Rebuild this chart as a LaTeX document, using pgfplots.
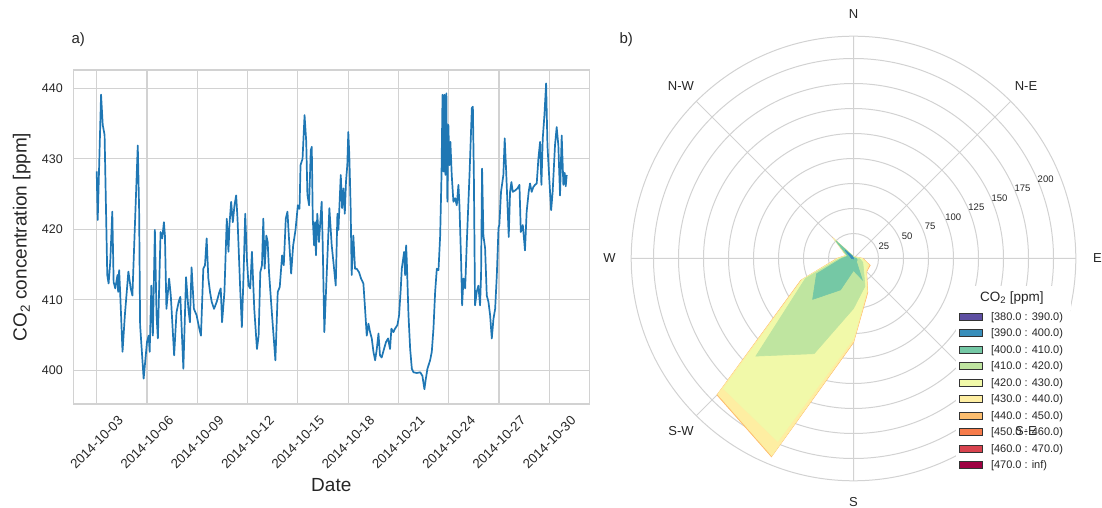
\documentclass[border=0pt]{standalone}
\usepackage{fontspec}
\setmainfont{Liberation Sans}
\usepackage{pgfplots}
\pgfplotsset{compat=1.18}
\usepgfplotslibrary{polar}
\usepackage{pgfplotstable}

\definecolor{tsblue}{HTML}{1F77B4}
\definecolor{gridgray}{HTML}{D2D2D2}
\definecolor{txt}{HTML}{262626}
\definecolor{c380}{HTML}{5E4FA2}
\definecolor{c390}{HTML}{388EBA}
\definecolor{c400}{HTML}{75C8A5}
\definecolor{c410}{HTML}{BFE5A0}
\definecolor{c420}{HTML}{F1F9A9}
\definecolor{c430}{HTML}{FEEEA2}
\definecolor{c440}{HTML}{FDBE6F}
\definecolor{c450}{HTML}{F67B4A}
\definecolor{c460}{HTML}{D8434E}
\definecolor{c470}{HTML}{9E0142}

\pgfplotstableread{
day ppm
3.00 428.2
3.06 421.3
3.26 439.1
3.36 434.8
3.47 433.4
3.63 413.5
3.71 412.3
3.81 415.4
3.93 422.5
4.01 412.5
4.11 411.6
4.24 413.5
4.28 411.1
4.34 414.2
4.40 411.0
4.54 402.6
4.68 407.8
4.89 414.0
5.03 411.6
5.13 410.6
5.45 431.9
5.53 422.9
5.59 406.4
5.80 398.8
6.00 404.0
6.10 404.9
6.16 402.6
6.26 412.0
6.35 404.9
6.47 419.9
6.57 407.8
6.65 404.5
6.81 419.6
6.91 418.7
7.01 421.0
7.07 419.1
7.16 408.7
7.32 413.0
7.42 410.6
7.62 402.1
7.76 408.2
7.89 409.7
7.99 410.4
8.17 400.2
8.33 413.2
8.47 408.7
8.56 406.8
8.66 414.6
8.80 408.7
8.96 407.8
9.12 405.9
9.22 404.9
9.36 414.4
9.46 414.9
9.56 418.7
9.66 413.0
9.76 411.1
9.86 409.7
10.00 408.7
10.16 409.7
10.32 411.1
10.40 411.6
10.48 406.8
10.62 411.1
10.76 421.5
10.86 416.8
10.92 420.6
11.02 423.9
11.12 421.0
11.22 423.4
11.32 424.8
11.40 421.5
11.56 411.6
11.66 406.1
11.76 413.5
11.86 422.2
11.96 415.8
12.06 412.0
12.16 411.6
12.26 416.8
12.40 408.7
12.56 403.0
12.66 404.9
12.76 413.9
12.86 414.9
12.94 421.5
13.02 414.4
13.12 419.1
13.20 418.2
13.28 413.9
13.46 407.8
13.66 401.4
13.80 411.1
13.92 411.8
14.06 416.3
14.16 414.9
14.28 421.5
14.38 422.5
14.46 419.1
14.60 413.7
14.72 417.7
14.86 419.9
15.00 423.4
15.10 422.9
15.16 429.1
15.28 430.0
15.40 436.2
15.50 432.4
15.57 424.9
15.67 423.4
15.77 431.2
15.83 431.7
15.89 421.5
15.97 417.7
16.03 421.0
16.08 416.3
16.16 422.2
16.26 418.2
16.42 423.9
16.48 418.2
16.58 405.4
16.72 413.5
16.88 423.0
17.02 417.7
17.12 415.4
17.26 412.0
17.36 422.2
17.42 419.9
17.56 427.7
17.64 423.0
17.72 425.8
17.80 422.2
17.87 426.7
17.95 429.1
18.01 433.8
18.07 430.5
18.15 423.0
18.21 413.5
18.31 419.1
18.41 414.4
18.51 414.4
18.65 413.9
18.77 413.0
18.91 412.3
19.01 408.7
19.11 404.9
19.21 406.6
19.31 405.4
19.41 404.5
19.51 402.6
19.61 401.4
19.71 403.0
19.81 405.2
19.90 402.1
20.00 401.8
20.14 403.0
20.26 404.0
20.38 404.5
20.50 403.0
20.58 405.9
20.70 405.4
20.80 405.9
20.94 406.4
21.04 407.8
21.14 411.6
21.20 414.4
21.26 415.4
21.34 416.8
21.40 413.5
21.46 417.7
21.50 415.4
21.60 407.8
21.70 403.0
21.80 400.2
21.90 399.7
22.10 399.6
22.30 399.7
22.43 399.2
22.55 397.3
22.63 398.7
22.73 400.2
22.89 401.4
22.99 402.6
23.09 405.9
23.19 411.1
23.29 414.4
23.39 414.2
23.49 419.1
23.57 427.7
23.63 439.1
23.69 428.2
23.75 439.1
23.80 427.7
23.86 439.3
23.92 423.9
23.98 434.8
24.04 429.1
24.10 432.4
24.18 427.7
24.28 423.9
24.38 424.4
24.48 423.4
24.58 426.3
24.64 423.4
24.74 415.4
24.80 409.2
24.88 413.0
24.98 411.6
25.08 418.2
25.24 427.7
25.38 437.2
25.44 437.4
25.50 427.7
25.57 409.2
25.67 411.1
25.77 412.0
25.87 409.2
25.93 413.5
25.99 428.6
26.07 419.1
26.17 417.3
26.27 410.6
26.37 409.7
26.47 407.8
26.57 404.5
26.67 407.3
26.77 408.7
26.87 413.5
26.97 420.2
27.02 420.6
27.12 425.3
27.26 427.7
27.34 432.9
27.42 428.6
27.50 423.9
27.58 418.9
27.66 425.3
27.74 426.7
27.82 425.3
27.96 425.5
28.10 425.8
28.22 426.3
28.30 419.6
28.42 420.6
28.55 417.0
28.65 422.5
28.77 425.3
28.85 426.5
28.95 425.3
29.05 426.0
29.15 426.3
29.25 426.5
29.35 430.0
29.45 432.4
29.53 426.3
29.61 432.9
29.71 436.2
29.81 440.7
29.89 431.9
30.01 426.7
30.11 422.7
30.20 425.3
30.34 431.9
30.44 434.5
30.54 431.9
30.64 424.8
30.74 433.3
30.84 426.3
30.92 428.0
30.98 426.1
31.04 427.7
}\tsdata

% wind rose: counts per direction (compass degrees) and CO2 bin
\pgfplotstableread{
dir b380 b390 b400 b410 b420 b430 b440
0     0 0.5 1.0 0.5 0.5 0   0
22.5  0 0   1.0 0.5 0.5 0   0
45    0 0   1.0 0.5 0.5 0   0
67.5  0 0   1.5 0.5 1.0 0.5 0
90    0 0   3   3   2   1   0.5
112.5 0 0   4   6   5   2   1
135   0 0   4   10  3   1   0.5
157.5 0 0   23  7   5   1   1
180   0 0   12  38  30  3   1
202.5 0 0.5 33.5 69 95  15.5 1
225   0 0.5 57.3 80.2 46 8  1
247.5 0 0.5 39.5 12 3   1   1
270   0 2   10  2   1   1   0.5
292.5 0 3   3   1   0.5 0.5 0
315   0 12  13  0.5 0.5 0.5 0.5
337.5 0 2   1   0   0.5 0   0
0     0 0   0   0   0   0   0
}\windrose

\begin{document}
\begin{tikzpicture}
\path[use as bounding box] (0,0) rectangle (1102pt,508pt);

\begin{axis}[
  at={(73.3pt,104pt)}, anchor=south west,
  scale only axis, width=516pt, height=334pt,
  xmin=1.604, xmax=32.387, ymin=395.2, ymax=442.6,
  xtick={3,6,...,30},
  xticklabels={2014-10-03,2014-10-06,2014-10-09,2014-10-12,2014-10-15,2014-10-18,2014-10-21,2014-10-24,2014-10-27,2014-10-30},
  ytick={400,410,420,430,440},
  grid=major, major grid style={draw=gridgray, line width=1.1pt},
  axis line style={draw=gridgray, line width=1.1pt},
  major tick length=0pt,
  /pgf/number format/assume math mode=true,
  tick label style={font=\fontsize{12.5}{15}\selectfont, text=txt},
  xticklabel style={font=\fontsize{13.3}{16}\selectfont, yshift=-38.5pt, rotate=45, anchor=center, inner sep=1pt},
  yticklabel style={xshift=-7pt},
  xlabel={Date}, ylabel={CO\textsubscript{2} concentration [ppm]},
  label style={font=\fontsize{19}{22}\selectfont, text=txt},
  xlabel style={at={(axis description cs:0.5,-0.2425)}, anchor=center},
  ylabel style={at={(axis description cs:-0.1,0.5)}, anchor=center},
]
\addplot[tsblue, line width=1.7pt, line join=round] table[x=day, y=ppm] {\tsdata};
\end{axis}

\node[anchor=west, text=txt, font=\fontsize{15}{18}\selectfont] at (68pt,468pt) {a)};
\node[anchor=west, text=txt, font=\fontsize{15}{18}\selectfont] at (616pt,468pt) {b)};

\begin{polaraxis}[
  at={(853.5pt,249.5pt)}, anchor=center,
  scale only axis, width=444.6pt, height=444.6pt,
  ymin=0, ymax=222.3,
  xtick={0,45,...,315}, xticklabels={},
  ytick={25,50,...,200}, yticklabels={},
  grid=major, major grid style={draw=gridgray, line width=1pt},
  axis line style={draw=gridgray, line width=1pt},
  major tick length=0pt,
  clip=false,
  legend style={at={(axis description cs:0.729,0.3864)}, anchor=north west,
    draw=none, fill=white, inner sep=3pt, row sep=5.5pt, column sep=4.6pt,
    font=\fontsize{11}{13}\selectfont, text=txt,
    nodes={text height=8pt, text depth=3pt, inner ysep=0pt, inner xsep=3.7pt},
    cells={anchor=west}},
  legend image code/.code={\draw[#1, line width=0.8pt] (0pt,-2.4pt) rectangle (23.4pt,4.8pt);},
]
\addplot[forget plot, fill=c440, draw=c440, line width=0.8pt] table[x expr={90-\thisrow{dir}}, y expr={\thisrow{b380}+\thisrow{b390}+\thisrow{b400}+\thisrow{b410}+\thisrow{b420}+\thisrow{b430}+\thisrow{b440}}] {\windrose};
\addplot[forget plot, fill=c430, draw=c430, line width=0.6pt] table[x expr={90-\thisrow{dir}}, y expr={\thisrow{b380}+\thisrow{b390}+\thisrow{b400}+\thisrow{b410}+\thisrow{b420}+\thisrow{b430}}] {\windrose};
\addplot[forget plot, fill=c420, draw=c420, line width=0.6pt] table[x expr={90-\thisrow{dir}}, y expr={\thisrow{b380}+\thisrow{b390}+\thisrow{b400}+\thisrow{b410}+\thisrow{b420}}] {\windrose};
\addplot[forget plot, fill=c410, draw=c410, line width=0.6pt] table[x expr={90-\thisrow{dir}}, y expr={\thisrow{b380}+\thisrow{b390}+\thisrow{b400}+\thisrow{b410}}] {\windrose};
\addplot[forget plot, fill=c400, draw=c400, line width=0.6pt] table[x expr={90-\thisrow{dir}}, y expr={\thisrow{b380}+\thisrow{b390}+\thisrow{b400}}] {\windrose};
\addplot[forget plot, fill=c390, draw=c390, line width=0.6pt] table[x expr={90-\thisrow{dir}}, y expr={\thisrow{b380}+\thisrow{b390}}] {\windrose};

\addlegendimage{fill=c380, draw=black!80}\addlegendentry{[380.0 : 390.0)}
\addlegendimage{fill=c390, draw=black!80}\addlegendentry{[390.0 : 400.0)}
\addlegendimage{fill=c400, draw=black!80}\addlegendentry{[400.0 : 410.0)}
\addlegendimage{fill=c410, draw=black!80}\addlegendentry{[410.0 : 420.0)}
\addlegendimage{fill=c420, draw=black!80}\addlegendentry{[420.0 : 430.0)}
\addlegendimage{fill=c430, draw=black!80}\addlegendentry{[430.0 : 440.0)}
\addlegendimage{fill=c440, draw=black!80}\addlegendentry{[440.0 : 450.0)}
\addlegendimage{fill=c450, draw=black!80}\addlegendentry{[450.0 : 460.0)}
\addlegendimage{fill=c460, draw=black!80}\addlegendentry{[460.0 : 470.0)}
\addlegendimage{fill=c470, draw=black!80}\addlegendentry{[470.0 : inf)}

\begin{scope}[every node/.style={text=txt, font=\fontsize{13}{15}\selectfont}]
\node at (axis cs:90,244) {N};
\node at (axis cs:45,244) {N-E};
\node at (axis cs:0,244) {E};
\node at (axis cs:270,244) {S};
\node at (axis cs:225,244) {S-W};
\node at (axis cs:180,244) {W};
\node at (axis cs:135,244) {N-W};
\end{scope}
\coordinate (se) at (axis cs:315,244);
\begin{scope}[every node/.style={text=txt, font=\fontsize{9.5}{11}\selectfont}]
\node at (axis cs:22.5,33) {25};
\node at (axis cs:22.5,58) {50};
\node at (axis cs:22.5,83) {75};
\node at (axis cs:22.5,108) {100};
\node at (axis cs:22.5,133) {125};
\node at (axis cs:22.5,158) {150};
\node at (axis cs:22.5,183) {175};
\node at (axis cs:22.5,208) {200};
\end{scope}
\end{polaraxis}

\fill[white] (955.3pt,198pt) rectangle (1071pt,222pt);
\node[text=txt, font=\fontsize{13.5}{16}\selectfont] at (1011.8pt,209.7pt) {CO\textsubscript{2} [ppm]};
\node[text=txt, font=\fontsize{13}{15}\selectfont] at (se) {S-E};
\end{tikzpicture}
\end{document}
